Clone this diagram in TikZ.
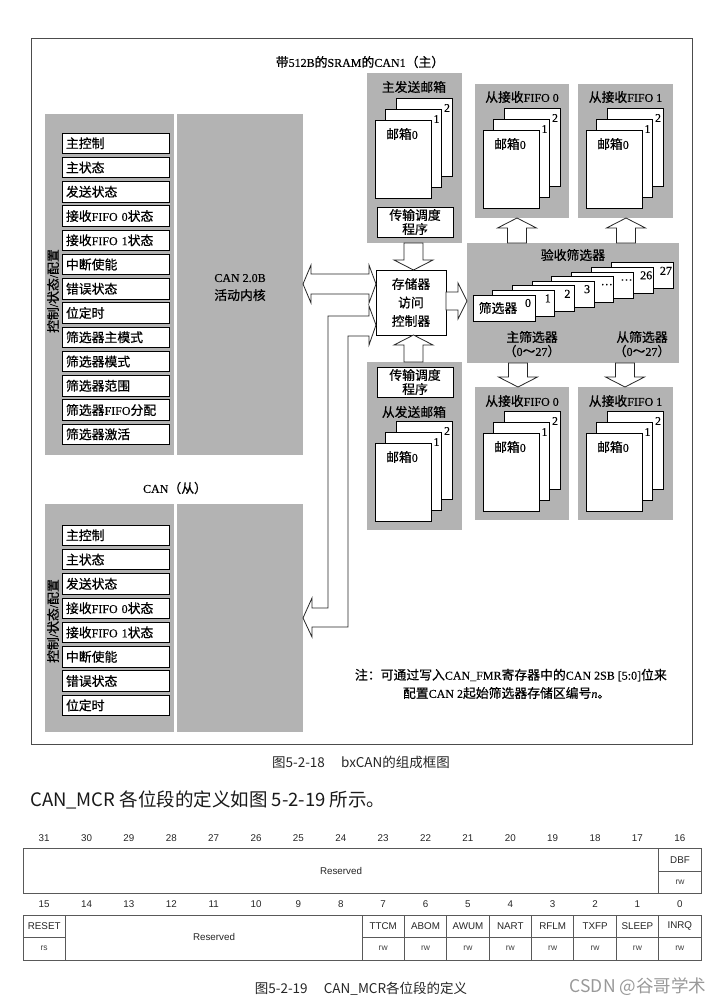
\documentclass[tikz,border=0pt]{standalone}
\usepackage{fontspec}
\setmainfont{Liberation Serif}[FakeBold=0.3]
\newfontfamily\cjk[Scale=1.07,FakeBold=0.6]{Noto Sans CJK SC}
\newfontfamily\cjks{Noto Sans CJK SC}
\newfontfamily\hel{Liberation Sans}
\usetikzlibrary{calc}
\newcommand\zh[1]{{\cjk #1}}
\newcommand\fz{\fontsize{12}{14}\selectfont}
\definecolor{pgray}{RGB}{179,179,179}
\newcommand\mstack[3]{%
 \node[wbox,minimum width=56pt,minimum height=78pt] (#1c2) at (#2+21,#3-22) {};
 \node[wbox,minimum width=56pt,minimum height=78pt] (#1c1) at (#2+10.5,#3-11) {};
 \node[wbox,minimum width=56pt,minimum height=78pt] (#1c0) at (#2,#3) {};
 \node[lbl] at ($(#1c2.north east)+(-5,10)$) {2};
 \node[lbl] at ($(#1c1.north east)+(-5,10)$) {1};
 \node[lbl] at ($(#1c0.north west)+(27,14)$) {\zh{邮箱}0};
}
\newcommand\blkup[3]{%
 \draw[blockarrow] let \p1=(#2), \p2=(#3) in
 (#1pt-9.5pt,\y1) -- (#1pt-9.5pt,\y2-10pt) -- (#1pt-19.5pt,\y2-10pt) -- (#1pt,\y2)
 -- (#1pt+19.5pt,\y2-10pt) -- (#1pt+9.5pt,\y2-10pt) -- (#1pt+9.5pt,\y1) -- cycle;}
\newcommand\blkdown[3]{%
 \draw[blockarrow] let \p1=(#2), \p2=(#3) in
 (#1pt-9.5pt,\y1) -- (#1pt-9.5pt,\y2+10pt) -- (#1pt-19.5pt,\y2+10pt) -- (#1pt,\y2)
 -- (#1pt+19.5pt,\y2+10pt) -- (#1pt+9.5pt,\y2+10pt) -- (#1pt+9.5pt,\y1) -- cycle;}
\begin{document}
\begin{tikzpicture}[x=1pt,y=-1pt,
 panel/.style={fill=pgray,draw=none,inner sep=0,outer sep=0,anchor=north west},
 wbox/.style={fill=white,draw=black,line width=0.8pt,inner sep=0,outer sep=0,anchor=north west},
 regbox/.style={wbox,minimum width=107pt,minimum height=20.5pt,text width=99pt,inner xsep=4pt,align=left,font=\fz},
 lbl/.style={inner sep=0,outer sep=0,font=\fz},
 blockarrow/.style={draw=black!85,fill=white,line width=0.8pt,line join=miter},
 tbl/.style={draw=black!65,line width=0.8pt},
 tt/.style={font=\hel\fontsize{9.8}{11}\selectfont,inner sep=0,text=black!85},
 ttr/.style={font=\hel\fontsize{8.5}{10}\selectfont,inner sep=0,text=black!75},
]
\useasboundingbox (0,0) rectangle (722,1004);
\fill[white] (0,0) rectangle (722,1004);
% frame
\draw[black!70,line width=1pt] (31,38) rectangle (692,744);
\node[lbl] (title) at (360,62) {\zh{带}512B\zh{的}SRAM\zh{的}CAN1\zh{（主）}};
% master CAN
\node[panel,minimum width=129pt,minimum height=341pt] (mctl) at (45,114) {};
\node[panel,minimum width=126pt,minimum height=341pt] (mcore) at (177,114) {};
\node[lbl,align=center,font=\fontsize{12}{18}\selectfont] (mcoret) at ($(mcore.center)+(0,3)$) {CAN 2.0B\\\zh{活动内核}};
\foreach \t [count=\i from 0] in {\zh{主控制},\zh{主状态},\zh{发送状态},\zh{接收}FIFO 0\zh{状态},\zh{接收}FIFO 1\zh{状态},\zh{中断使能},\zh{错误状态},\zh{位定时},\zh{筛选器主模式},\zh{筛选器模式},\zh{筛选器范围},\zh{筛选器}FIFO\zh{分配},\zh{筛选器激活}}
  \node[regbox] (mreg\i) at (62,{133+24.25*\i}) {\t};
\node[lbl,rotate=90] (mvl) at (53,291) {\zh{控制}/\zh{状态}/\zh{配置}};
% slave CAN
\node[lbl] (stitle) at (175,488) {CAN\zh{（从）}};
\node[panel,minimum width=129pt,minimum height=228pt] (sctl) at (45,504) {};
\node[panel,minimum width=126pt,minimum height=228pt] (score) at (177,504) {};
\foreach \t [count=\i from 0] in {\zh{主控制},\zh{主状态},\zh{发送状态},\zh{接收}FIFO 0\zh{状态},\zh{接收}FIFO 1\zh{状态},\zh{中断使能},\zh{错误状态},\zh{位定时}}
  \node[regbox] (sreg\i) at (62,{525+24.3*\i}) {\t};
\node[lbl,rotate=90] (svl) at (53,621) {\zh{控制}/\zh{状态}/\zh{配置}};
% master transmit mailboxes
\node[panel,minimum width=95pt,minimum height=170pt] (mtx) at (367,73) {};
\node[lbl] (mtxt) at (414,87) {\zh{主发送邮箱}};
\mstack{mtx}{375}{120}
\node[wbox,minimum width=76pt,minimum height=30pt,align=center,font=\fz] (msch) at (377,207) {\zh{传输调度}\\\zh{程序}};
% slave transmit mailboxes
\node[panel,minimum width=95pt,minimum height=168pt] (stx) at (367,362) {};
\node[wbox,minimum width=76pt,minimum height=30pt,align=center,font=\fz] (ssch) at (377,367) {\zh{传输调度}\\\zh{程序}};
\node[lbl] (stxt) at (414,412) {\zh{从发送邮箱}};
\mstack{stx}{375}{443}
% receive FIFOs
\node[panel,minimum width=94pt,minimum height=134pt] (fa) at (475,84) {};
\node[panel,minimum width=95pt,minimum height=134pt] (fb) at (578,84) {};
\node[panel,minimum width=94pt,minimum height=133pt] (fc) at (475,387) {};
\node[panel,minimum width=95pt,minimum height=133pt] (fd) at (578,387) {};
\node[lbl] (fat) at (522,97) {\zh{从接收}FIFO 0};
\node[lbl] (fbt) at (625.5,97) {\zh{从接收}FIFO 1};
\node[lbl] (fct) at (522,401) {\zh{从接收}FIFO 0};
\node[lbl] (fdt) at (625.5,401) {\zh{从接收}FIFO 1};
\mstack{fa}{483}{130}
\mstack{fb}{586}{130}
\mstack{fc}{483}{433}
\mstack{fd}{586}{433}
% acceptance filters
\node[panel,minimum width=212pt,minimum height=120pt] (filt) at (467,243) {};
\node[lbl] (filtt) at (573,255) {\zh{验收筛选器}};
\foreach \k/\lab in {7/27,6/26,5/…,4/…,3/3,2/2,1/1,0/0} {
  \node[wbox,minimum width=62pt,minimum height=26pt] (flt\k) at ({473+19.7*\k},{295-4.6*\k}) {};
  \node[lbl] at ($(flt\k.north east)+(-7,8)$) {\lab};
}
\node[lbl] (fltt) at (498,308) {\zh{筛选器}};
\node[lbl] (mflt) at (532,337) {\zh{主筛选器}};
\node[lbl] (mfltr) at (532,351) {\zh{（}0\zh{～}27\zh{）}};
\node[lbl] (sflt) at (642,337) {\zh{从筛选器}};
\node[lbl] (sfltr) at (642,351) {\zh{（}0\zh{～}27\zh{）}};
% memory access controller
\node[wbox,minimum width=70pt,minimum height=65pt,align=center,font=\fontsize{12}{18.5}\selectfont] (ctrl) at (376,270) {\zh{存储器}\\\zh{访问}\\\zh{控制器}};
% block arrows
\blkdown{413.5}{mtx.south}{ctrl.north}
\blkup{413.5}{stx.north}{ctrl.south}
\blkup{517}{filt.north}{fa.south}
\blkup{626}{filt.north}{fb.south}
\blkdown{518}{filt.south}{fc.north}
\blkdown{625}{filt.south}{fd.north}
\draw[blockarrow] let \p1=(ctrl.east), \p2=(filt.west) in
  (\x1,-292pt) -- (\x2-9pt,-292pt) -- (\x2-9pt,-283pt) -- (\x2,-301pt) -- (\x2-9pt,-319pt) -- (\x2-9pt,-310pt) -- (\x1,-310pt) -- cycle;
\draw[blockarrow] let \p1=(mcore.east), \p2=(ctrl.west) in
  (\x1,-284pt) -- (\x1+8pt,-265pt) -- (\x1+8pt,-274pt) -- (\x2-7pt,-274pt) -- (\x2-7pt,-265pt) -- (\x2,-284pt)
  -- (\x2-7pt,-303pt) -- (\x2-7pt,-294pt) -- (\x1+8pt,-294pt) -- (\x1+8pt,-303pt) -- cycle;
\draw[blockarrow] let \p1=(ctrl.west), \p2=(score.east) in
  (\x1,-325pt) -- (\x1-7pt,-306pt) -- (\x1-7pt,-316pt) -- (328pt,-316pt) -- (328pt,-608pt) -- (\x2+9pt,-608pt)
  -- (\x2+9pt,-598pt) -- (\x2,-618pt) -- (\x2+9pt,-637pt) -- (\x2+9pt,-627pt) -- (348pt,-627pt) -- (348pt,-336pt)
  -- (\x1-7pt,-336pt) -- (\x1-7pt,-345pt) -- cycle;
% note
\node[lbl,anchor=west] (note1) at (355,675) {\zh{注：可通过写入}CAN\_FMR\zh{寄存器中的}CAN 2SB [5:0]\zh{位来}};
\node[lbl,anchor=west] (note2) at (403,693) {\zh{配置}CAN 2\zh{起始筛选器存储区编号}\textit{n}\zh{。}};
% captions
\node[font=\cjks\fontsize{13.5}{15}\selectfont,text=black!85,inner sep=0] (cap1) at (361,762) {图5-2-18\hspace{1.2em}bxCAN的组成框图};
\node[font=\cjks\fontsize{18.5}{21}\selectfont,text=black!90,inner sep=0,anchor=west] (intro) at (30,800) {CAN\_MCR 各位段的定义如图 5-2-19 所示。};
% register table
\foreach \j in {0,...,15} {
  \pgfmathtruncatemacro\bh{31-\j}
  \pgfmathtruncatemacro\bl{15-\j}
  \node[tt] at ({23+42.375*(\j+0.5)},838) {\bh};
  \node[tt] at ({23+42.375*(\j+0.5)},904) {\bl};
}
\draw[tbl] (23,848) rectangle (701,893);
\draw[tbl] (658.6,848) -- (658.6,893);
\draw[tbl] (658.6,871) -- (701,871);
\node[tt] (resh) at (341,871) {Reserved};
\node[tt] (dbf) at (680,860) {DBF};
\node[ttr] (dbfa) at (680,882) {rw};
\draw[tbl] (23,915) rectangle (701,960);
\foreach \k in {1,8,9,10,11,12,13,14,15} \draw[tbl] ({23+42.375*\k},915) -- ++(0,45);
\draw[tbl] (23,937) -- (65.4,937);
\draw[tbl] (362,937) -- (701,937);
\node[tt] (reset) at (44.2,926) {RESET};
\node[ttr] (reseta) at (44.2,948) {rs};
\node[tt] (resl) at (214,937) {Reserved};
\foreach \n [count=\j from 8] in {TTCM,ABOM,AWUM,NART,RFLM,TXFP,SLEEP,INRQ} {
  \node[tt] (bit\j) at ({23+42.375*(\j+0.5)},926) {\n};
  \node[ttr] at ({23+42.375*(\j+0.5)},948) {rw};
}
\node[font=\cjks\fontsize{13.5}{15}\selectfont,text=black!85,inner sep=0] (cap2) at (361,989) {图5-2-19\hspace{1.2em}CAN\_MCR各位段的定义};
\node[font=\cjks\fontsize{17.5}{19}\selectfont,text=black!40,inner sep=0] (wm) at (638,987) {CSDN @谷哥学术};
\end{tikzpicture}
\end{document}
